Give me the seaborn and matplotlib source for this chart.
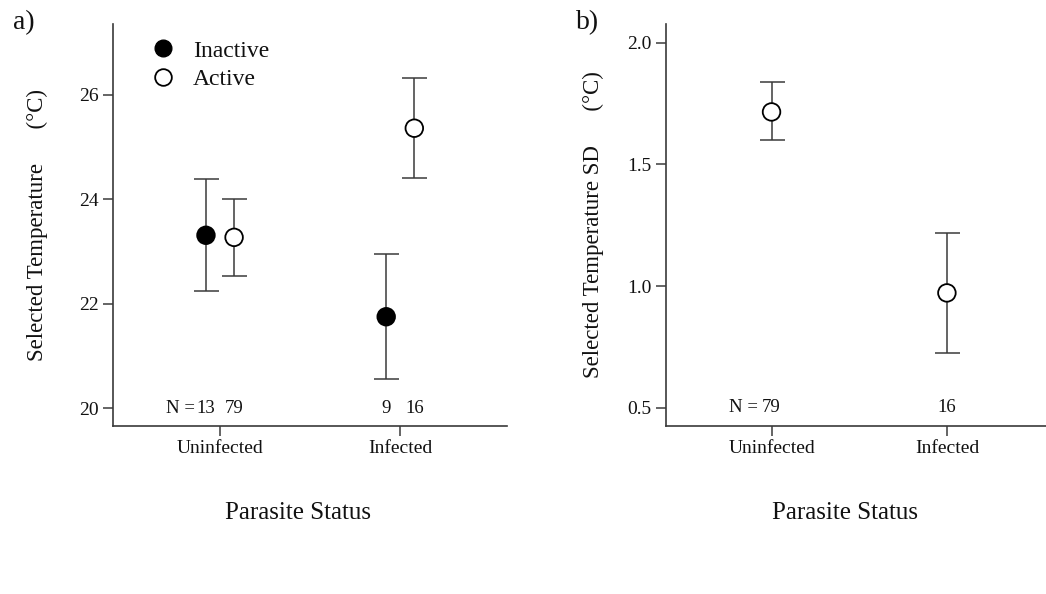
import pandas as pd
import matplotlib.pyplot as plt
import numpy as np
import seaborn as sns
from matplotlib.lines import Line2D

# panel a: mean selected temperature with error bars
status = ['Uninfected', 'Infected']
inactive_mean = [23.31, 21.75]
inactive_lo = [22.25, 20.55]
inactive_hi = [24.38, 22.95]
active_mean = [23.27, 25.36]
active_lo = [22.53, 24.41]
active_hi = [24.00, 26.32]
n_inactive = ['13', '9']
n_active = ['79', '16']

# panel b: SD of selected temperature (active only)
sd_mean = [1.715, 0.972]
sd_lo = [1.598, 0.725]
sd_hi = [1.836, 1.218]
n_sd = ['79', '16']

sns.set_style('ticks')
plt.rcParams['font.family'] = ['Liberation Serif', 'DejaVu Serif']
plt.rcParams['text.color'] = '#111111'
plt.rcParams['axes.labelcolor'] = '#111111'
edge = '#3a3a3a'

fig = plt.figure(figsize=(10.46, 5.94), dpi=100)
ax1 = fig.add_axes([0.108, 0.283, 0.377, 0.677])
ax2 = fig.add_axes([0.637, 0.283, 0.363, 0.677])

dodge = 0.078
xpos = np.arange(len(status))

df_a = pd.DataFrame({
    'x': np.concatenate([xpos - dodge, xpos + dodge]),
    'mean': inactive_mean + active_mean,
    'lo': inactive_lo + active_lo,
    'hi': inactive_hi + active_hi,
    'group': ['Inactive'] * 2 + ['Active'] * 2,
})
df_b = pd.DataFrame({'x': xpos, 'mean': sd_mean, 'lo': sd_lo, 'hi': sd_hi})


def draw(ax, df, fills):
    yerr = [df['mean'] - df['lo'], df['hi'] - df['mean']]
    ax.errorbar(df['x'], df['mean'], yerr=yerr, fmt='none', ecolor=edge,
                elinewidth=1.1, capsize=9, capthick=1.1, zorder=2)
    sns.scatterplot(data=df, x='x', y='mean', ax=ax, s=160, c=fills,
                    edgecolor='black', linewidth=1.3, zorder=3, legend=False)


draw(ax1, df_a, ['black', 'black', 'white', 'white'])
draw(ax2, df_b, ['white', 'white'])

for ax in (ax1, ax2):
    sns.despine(ax=ax)
    for s in ('left', 'bottom'):
        ax.spines[s].set_color(edge)
        ax.spines[s].set_linewidth(1.2)
    ax.tick_params(colors=edge, labelcolor='#111111', labelsize=14, length=7, width=1.1)
    ax.set_xticks(xpos)
    ax.set_xticklabels(status)
    ax.set_xlabel('Parasite Status', fontsize=18)
    ax.xaxis.set_label_coords(0.47, -0.19)

ax1.set_xlim(-0.594, 1.594)
ax1.set_ylim(19.66, 27.36)
ax1.set_yticks([20, 22, 24, 26])
ax1.set_ylabel('Selected Temperature      (\u00b0C)', fontsize=16.5)
ax1.yaxis.set_label_coords(-0.165, 0.5)

ax2.set_xlim(-0.60, 1.565)
ax2.set_ylim(0.426, 2.077)
ax2.set_yticks([0.5, 1.0, 1.5, 2.0])
ax2.set_yticklabels(['0.5', '1.0', '1.5', '2.0'])
ax2.set_ylabel('Selected Temperature SD      (\u00b0C)', fontsize=16.5)
ax2.yaxis.set_label_coords(-0.165, 0.5)

# sample sizes
for i in range(2):
    ax1.text(xpos[i] - dodge, 20, n_inactive[i], ha='center', va='center', fontsize=13.5)
    ax1.text(xpos[i] + dodge, 20, n_active[i], ha='center', va='center', fontsize=13.5)
    ax2.text(xpos[i], 0.5, n_sd[i], ha='center', va='center', fontsize=13.5)
ax1.text(xpos[0] - dodge - 0.06, 20, 'N =', ha='right', va='center', fontsize=13.5)
ax2.text(xpos[0] - 0.075, 0.5, 'N =', ha='right', va='center', fontsize=13.5)

handles = [
    Line2D([], [], marker='o', ls='none', mfc='black', mec='black', ms=12),
    Line2D([], [], marker='o', ls='none', mfc='white', mec='black', ms=12, mew=1.3),
]
ax1.legend(handles, ['Inactive', 'Active'], loc='upper left', bbox_to_anchor=(0.043, 1.012),
           frameon=False, fontsize=17, handlelength=1.0, handletextpad=0.78,
           labelspacing=0.3)

fig.text(0.012, 0.962, 'a)', fontsize=20, va='center')
fig.text(0.551, 0.962, 'b)', fontsize=20, va='center')

fig.savefig('out.png', dpi=100)
